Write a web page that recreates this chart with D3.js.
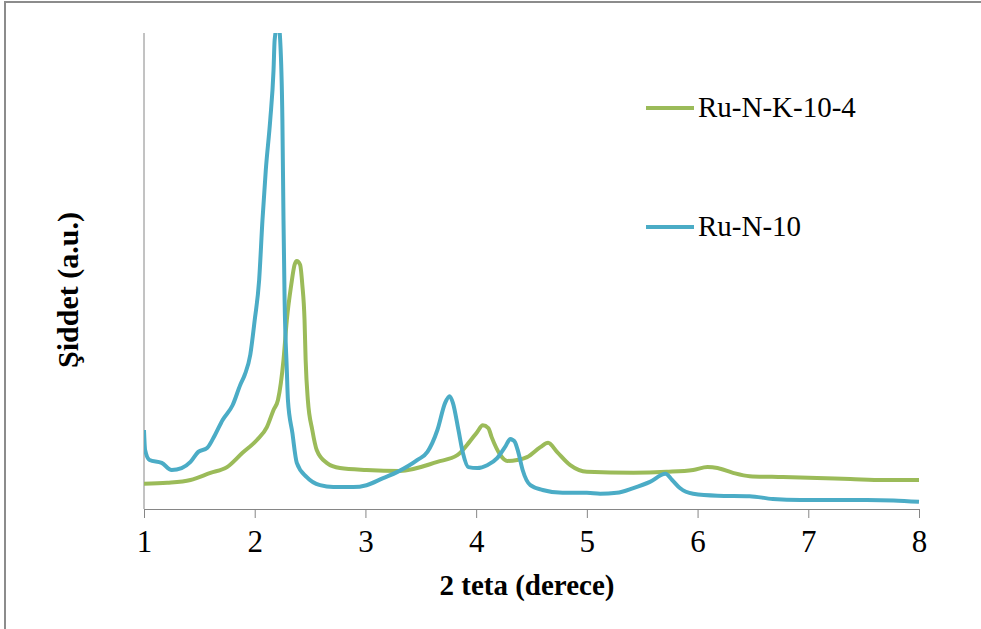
<!DOCTYPE html>
<html>
<head>
<meta charset="utf-8">
<script src="https://cdn.jsdelivr.net/npm/d3@7"></script>
<style>
  body { margin: 0; background: #fff; }
  #chart { width: 981px; height: 629px; }
  text { font-family: "Liberation Serif", "Times New Roman", Times, "DejaVu Serif", serif; }
</style>
</head>
<body>
<div id="chart"></div>
<script>
  const w = 981;
  const h = 629;

  // Ru-N-10 (blue)
  const n10X = [1.00, 1.01, 1.05, 1.16, 1.25, 1.34, 1.42, 1.49, 1.57, 1.64, 1.71, 1.80, 1.87, 1.91, 1.96, 2.00,
    2.04, 2.07, 2.10, 2.14, 2.17, 2.18, 2.20, 2.22, 2.23, 2.25, 2.26, 2.27, 2.29, 2.30, 2.34, 2.38, 2.47, 2.59,
    2.71, 2.89, 3.01, 3.16, 3.29, 3.47, 3.56, 3.65, 3.72, 3.76, 3.79, 3.84, 3.88, 3.93, 4.01, 4.10, 4.19, 4.26,
    4.31, 4.33, 4.35, 4.38, 4.42, 4.49, 4.60, 4.78, 5.00, 5.12, 5.27, 5.42, 5.57, 5.71, 5.77, 5.84, 5.96, 6.18,
    6.47, 6.68, 6.93, 7.22, 7.53, 7.77, 8.00];
  const n10Y = [16.6, 12.4, 10.3, 9.7, 8.2, 8.6, 9.9, 12.0, 12.8, 15.5, 18.7, 21.8, 26.1, 28.2, 32.4, 39.7,
    48.1, 60.7, 71.2, 81.7, 92.2, 98.5, 101, 101, 98.5, 81.7, 60.7, 43.9, 29.2, 22.9, 16.0, 9.7, 6.7, 5.0,
    4.6, 4.6, 5.0, 6.5, 7.8, 10.3, 12.0, 16.6, 22.3, 23.7, 22.3, 16.6, 11.8, 8.8, 8.6, 9.2, 10.7, 13.0,
    14.7, 14.5, 14.1, 12.0, 8.2, 5.0, 4.0, 3.4, 3.4, 3.2, 3.4, 4.4, 5.7, 7.4, 6.1, 4.4, 3.2, 2.8,
    2.7, 2.1, 1.9, 1.9, 1.9, 1.8, 1.5];

  // Ru-N-K-10-4 (green)
  const k104X = [1.00, 1.21, 1.42, 1.60, 1.75, 1.89, 2.02, 2.11, 2.17, 2.21, 2.26, 2.29, 2.33, 2.36, 2.38,
    2.41, 2.43, 2.45, 2.46, 2.48, 2.52, 2.56, 2.65, 2.77, 3.01, 3.31, 3.65, 3.83, 3.94, 4.01, 4.06, 4.11, 4.14,
    4.22, 4.28, 4.37, 4.46, 4.58, 4.65, 4.73, 4.85, 5.00, 5.42, 5.72, 5.96, 6.09, 6.18, 6.32, 6.47, 6.77,
    7.08, 7.38, 7.68, 8.00];
  const k104Y = [5.3, 5.5, 6.1, 7.6, 8.8, 11.8, 14.5, 17.2, 20.8, 22.9, 31.3, 39.7, 47.1, 51.3, 52.1,
    51.3, 47.1, 39.7, 31.3, 22.9, 16.6, 12.4, 9.7, 8.6, 8.2, 8.0, 9.9, 11.3, 14.1, 16.2, 17.6, 17.0, 15.1,
    11.3, 10.1, 10.3, 10.9, 13.0, 13.9, 12.0, 9.2, 7.8, 7.6, 7.8, 8.2, 8.8, 8.6, 7.6, 6.9, 6.7,
    6.5, 6.3, 6.1, 6.1];

  const seriesNames = ["Ru-N-K-10-4", "Ru-N-10"];
  const seriesColors = ["#9bbb59", "#4bacc6"];
  const xTicks = [1, 2, 3, 4, 5, 6, 7, 8];

  const plotL = 144, plotR = 919, plotT = 33, plotB = 509;

  var svg = d3.select("#chart")
    .append("svg")
    .attr("width", w)
    .attr("height", h);

  // frame (only left and top edges visible)
  svg.append("line").attr("x1", 5).attr("x2", 5).attr("y1", 1).attr("y2", h)
    .style("stroke", "#8c8c8c").style("stroke-width", "2px");
  svg.append("line").attr("x1", 4).attr("x2", w).attr("y1", 2).attr("y2", 2)
    .style("stroke", "#8c8c8c").style("stroke-width", "2px");

  const x = d3.scaleLinear().domain([1, 8]).range([plotL, plotR]);
  const y = d3.scaleLinear().domain([0, 100]).range([plotB, plotT]);

  svg.append("defs").append("clipPath").attr("id", "plot")
    .append("rect").attr("x", plotL).attr("y", plotT).attr("width", plotR - plotL + 4).attr("height", plotB - plotT);

  // y axis (no ticks)
  svg.append("line").attr("x1", plotL).attr("x2", plotL).attr("y1", plotT).attr("y2", plotB)
    .style("stroke", "#868686").style("stroke-width", "1px");

  // x axis
  const xAxis = svg.append("g")
    .attr("transform", `translate(0,${plotB})`)
    .call(d3.axisBottom(x).tickValues(xTicks).tickSize(9).tickSizeOuter(0).tickPadding(12).tickFormat(d3.format("d")));
  xAxis.attr("font-family", null);
  xAxis.select(".domain").style("stroke", "#868686");
  xAxis.selectAll(".tick line").style("stroke", "#868686");
  xAxis.selectAll("text")
    .style("font-size", "31px")
    .style("fill", "#000");

  const line = d3.line()
    .x(d => x(d[0]))
    .y(d => y(d[1]))
    .curve(d3.curveMonotoneX);

  const series = [
    k104X.map((v, i) => [v, k104Y[i]]),
    n10X.map((v, i) => [v, n10Y[i]])
  ];

  series.forEach((s, i) => {
    svg.append("path")
      .attr("d", line(s))
      .attr("clip-path", "url(#plot)")
      .style("fill", "none")
      .style("stroke", seriesColors[i])
      .style("stroke-width", "4px")
      .style("stroke-linejoin", "round");
  });

  // legend
  const legendY = [108, 227];
  seriesNames.forEach((name, i) => {
    svg.append("line")
      .attr("x1", 646).attr("x2", 694)
      .attr("y1", legendY[i]).attr("y2", legendY[i])
      .style("stroke", seriesColors[i])
      .style("stroke-width", "4px");
    svg.append("text")
      .attr("x", 698).attr("y", legendY[i] + 9)
      .style("font-size", "29px")
      .text(name);
  });

  // axis titles
  svg.append("text")
    .attr("x", 527).attr("y", 595)
    .attr("text-anchor", "middle")
    .style("font-weight", "bold")
    .style("font-size", "29px")
    .text("2 teta (derece)");

  svg.append("text")
    .attr("transform", "translate(78,290) rotate(-90)")
    .attr("text-anchor", "middle")
    .style("font-weight", "bold")
    .style("font-size", "30px")
    .text("Şiddet (a.u.)");
</script>
</body>
</html>
